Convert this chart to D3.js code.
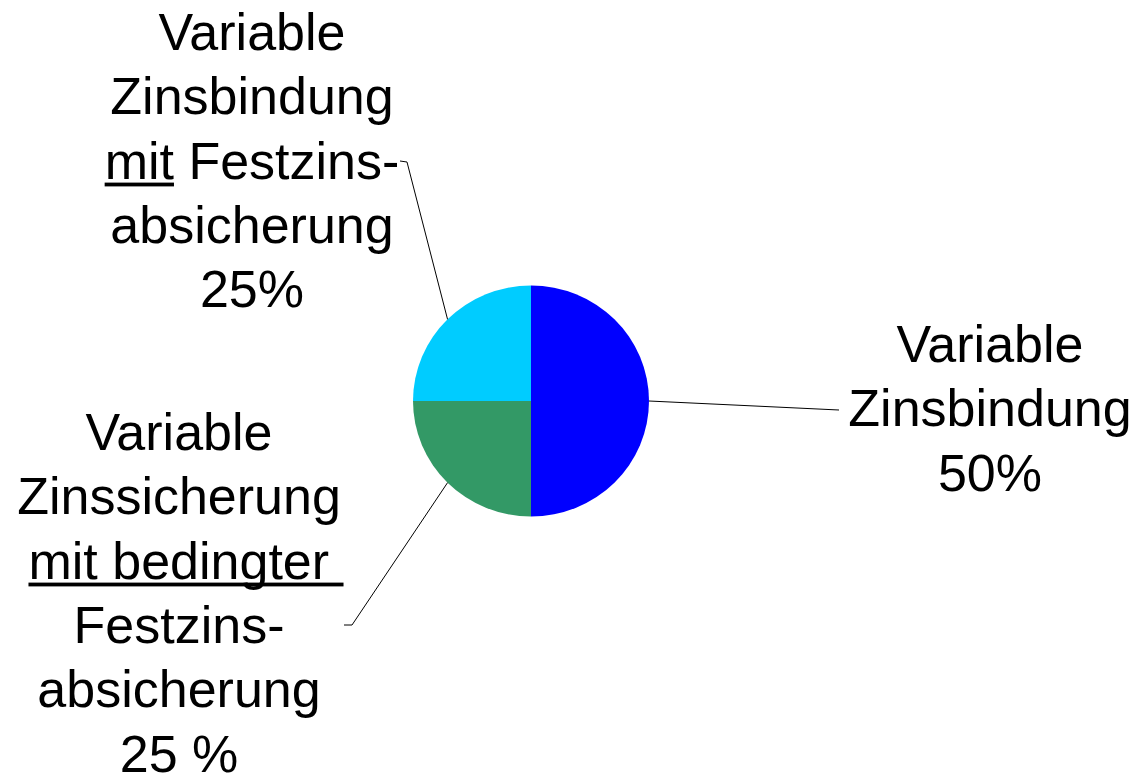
<!DOCTYPE html>
<html>
<head>
<meta charset="utf-8">
<script src="https://cdn.jsdelivr.net/npm/d3@7"></script>
<style>
  body { margin: 0; background: #fff; }
  svg { display: block; }
  text { font-family: "Liberation Sans", Arial, sans-serif; font-size: 52px; fill: #000; }
</style>
</head>
<body>
<svg id="chart" width="1135" height="775"></svg>
<script>
// data
const categories = [
  "Variable Zinsbindung",
  "Variable Zinssicherung mit bedingter Festzinsabsicherung",
  "Variable Zinsbindung mit Festzinsabsicherung"
];
const values = [50, 25, 25];
const colors = ["#0000ff", "#339966", "#00ccff"];
// label lines; underlined parts marked with u:true
const labelLines = [
  [[{t: "Variable"}], [{t: "Zinsbindung"}], [{t: "50%"}]],
  [[{t: "Variable"}], [{t: "Zinssicherung"}], [{t: "mit bedingter ", u: true}],
   [{t: "Festzins-"}], [{t: "absicherung"}], [{t: "25 %"}]],
  [[{t: "Variable"}], [{t: "Zinsbindung"}], [{t: "mit", u: true}, {t: " Festzins-"}],
   [{t: "absicherung"}], [{t: "25%"}]]
];

const svg = d3.select("#chart");

// layout
const cx = 531, cy = 401;
const r = 118, yScale = 115.5 / 118;
const lineGap = 64.3;
// label anchor (center x, first baseline), per-line x nudge and leader end points
const labelPos = [
  {x: 990, y: 362, nudge: [], lead: [[839, 410]]},
  {x: 179, y: 450, nudge: [0, 0, 7], lead: [[352, 625], [344, 625]]},
  {x: 252, y: 50, nudge: [], lead: [[407, 162], [400, 161]]}
];

const pie = d3.pie().sort(null).value(d => d)(values);
const arc = d3.arc().innerRadius(0).outerRadius(r);

const g = svg.append("g")
  .attr("transform", `translate(${cx},${cy}) scale(1,${yScale})`);

g.selectAll("path")
  .data(pie)
  .join("path")
  .attr("d", arc)
  .attr("fill", (d, i) => colors[i]);

// leader lines from the edge at mid-angle
pie.forEach((d, i) => {
  const a = (d.startAngle + d.endAngle) / 2;
  const start = [cx + r * Math.sin(a), cy - r * yScale * Math.cos(a)];
  const pts = [start].concat(labelPos[i].lead);
  svg.append("path")
    .attr("d", d3.line()(pts))
    .attr("fill", "none")
    .attr("stroke", "#000")
    .attr("stroke-width", 1);
});

// labels
const underlined = [];
labelLines.forEach((lines, i) => {
  const p = labelPos[i];
  const txt = svg.append("text")
    .attr("text-anchor", "middle")
    .style("white-space", "pre");
  lines.forEach((parts, j) => {
    const base = p.y + j * lineGap;
    const line = txt.append("tspan")
      .attr("x", p.x + (p.nudge[j] || 0))
      .attr("y", base);
    parts.forEach(part => {
      const s = line.append("tspan").text(part.t);
      if (part.u) underlined.push({node: s.node(), base});
    });
  });
});

// solid underlines (no gaps under descenders)
underlined.forEach(u => {
  const x0 = u.node.getStartPositionOfChar(0).x;
  const w = u.node.getComputedTextLength();
  svg.append("rect")
    .attr("x", x0)
    .attr("y", u.base + 4)
    .attr("width", w)
    .attr("height", 3.8)
    .attr("fill", "#000");
});
</script>
</body>
</html>
